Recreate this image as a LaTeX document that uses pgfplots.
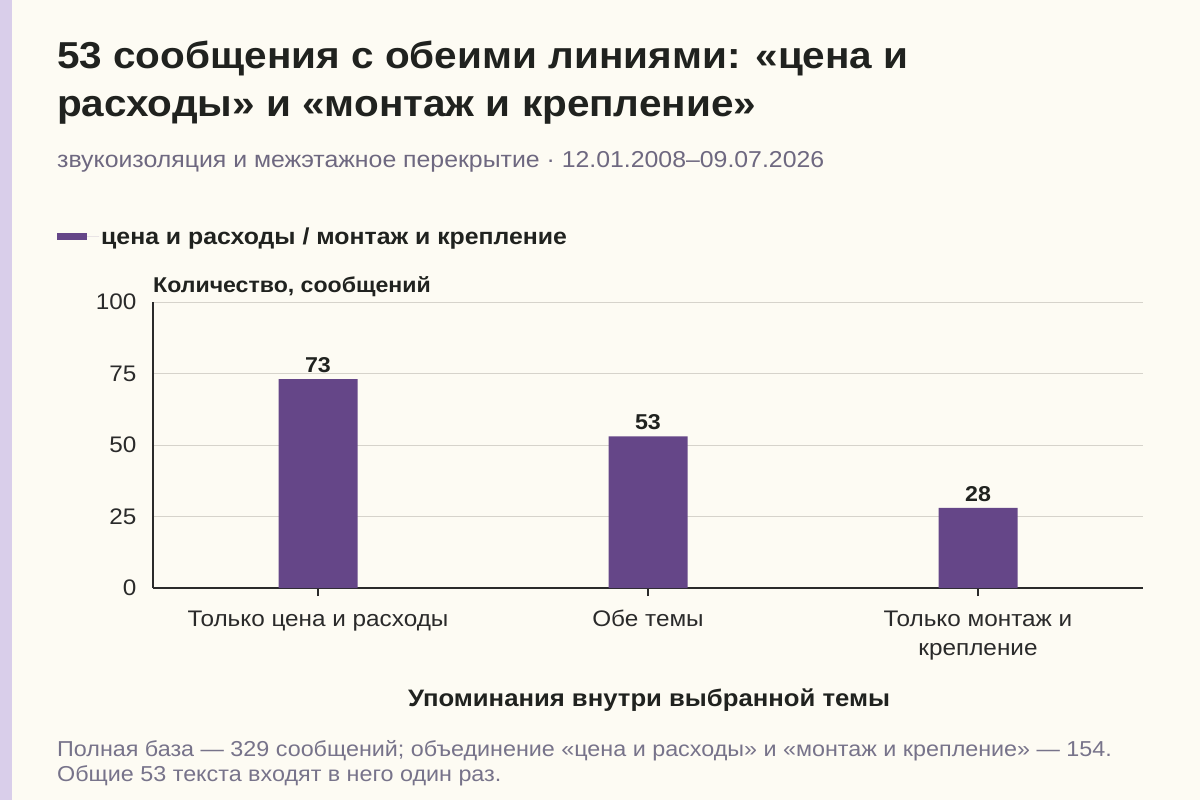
\documentclass[border=0pt]{standalone}
\usepackage{fontspec}
\setmainfont{Liberation Sans}[FakeStretch=1.08]
\usepackage{pgfplots}
\pgfplotsset{compat=1.18}

\definecolor{bg}{HTML}{FDFBF3}
\definecolor{stripe}{HTML}{D9CEEA}
\definecolor{barc}{HTML}{654688}
\definecolor{titlec}{HTML}{20221F}
\definecolor{subc}{HTML}{6E6880}
\definecolor{notec}{HTML}{77738A}
\definecolor{gridc}{HTML}{D6D3CB}
\definecolor{tickc}{HTML}{2A2A2A}

\begin{document}
\begin{tikzpicture}
\fill[bg] (0pt,0pt) rectangle (1200pt,-800pt);
\fill[stripe] (0pt,0pt) rectangle (12pt,-800pt);

% title and subtitle
\node[anchor=base west, inner sep=0pt, text=titlec, font=\fontsize{37.5}{44}\selectfont\bfseries]
  at (57pt,-69pt) {53 сообщения с обеими линиями: «цена и};
\node[anchor=base west, inner sep=0pt, text=titlec, font=\fontsize{37.5}{44}\selectfont\bfseries]
  at (57pt,-117pt) {расходы» и «монтаж и крепление»};
\node[anchor=base west, inner sep=0pt, text=subc, font=\fontsize{23}{27}\selectfont]
  at (57pt,-167pt) {звукоизоляция и межэтажное перекрытие · 12.01.2008–09.07.2026};

% y axis title
\node[anchor=base west, inner sep=0pt, text=titlec, font=\fontsize{21.4}{25}\selectfont\bfseries]
  at (153pt,-292pt) {Количество, сообщений};

\begin{axis}[
  at={(153pt,-588pt)}, anchor=south west,
  scale only axis, width=990pt, height=286pt,
  xmin=-0.5, xmax=2.5, ymin=0, ymax=100,
  ybar, bar width=79pt,
  xtick={0,1,2},
  xticklabels={\strut Только цена и расходы, \strut Обе темы, {\strut Только монтаж и\\крепление}},
  ytick={0,25,50,75,100},
  /pgf/number format/assume math mode=true,
  axis lines*=left,
  axis line style={tickc, line width=1.4pt},
  ymajorgrids, grid style={gridc, line width=0.9pt},
  tick align=outside,
  xtick style={tickc, line width=1.2pt},
  major tick length=8pt,
  ytick style={draw=none},
  tick label style={font=\fontsize{22.5}{29}\selectfont, text=tickc},
  xticklabel style={align=center, yshift=-7pt},
  yticklabel style={xshift=-5pt},
  nodes near coords,
  nodes near coords style={font=\fontsize{21.5}{24}\selectfont\bfseries, text=titlec, yshift=3pt,
    /pgf/number format/assume math mode=true},
  legend style={at={(-0.097,1.228)}, anchor=west, draw=none, fill=none, inner sep=0pt,
    font=\fontsize{23}{27}\selectfont\bfseries, text=titlec},
  legend image code/.code={\fill[barc] (0pt,-3.5pt) rectangle (30pt,3.5pt);
    \path (0pt,0pt) -- (42pt,0pt);},
]
\addplot[draw=none, fill=barc] coordinates {(0,73) (1,53) (2,28)};
\addlegendentry{цена и расходы / монтаж и крепление}
\end{axis}

% x axis title
\node[anchor=base, inner sep=0pt, text=titlec, font=\fontsize{23.8}{28}\selectfont\bfseries]
  at (649pt,-706pt) {Упоминания внутри выбранной темы};

% footnote
\node[anchor=base west, inner sep=0pt, text=notec, font=\fontsize{21.6}{25}\selectfont]
  at (57pt,-756pt) {Полная база — 329 сообщений; объединение «цена и расходы» и «монтаж и крепление» — 154.};
\node[anchor=base west, inner sep=0pt, text=notec, font=\fontsize{21.6}{25}\selectfont]
  at (57pt,-781pt) {Общие 53 текста входят в него один раз.};
\end{tikzpicture}
\end{document}
